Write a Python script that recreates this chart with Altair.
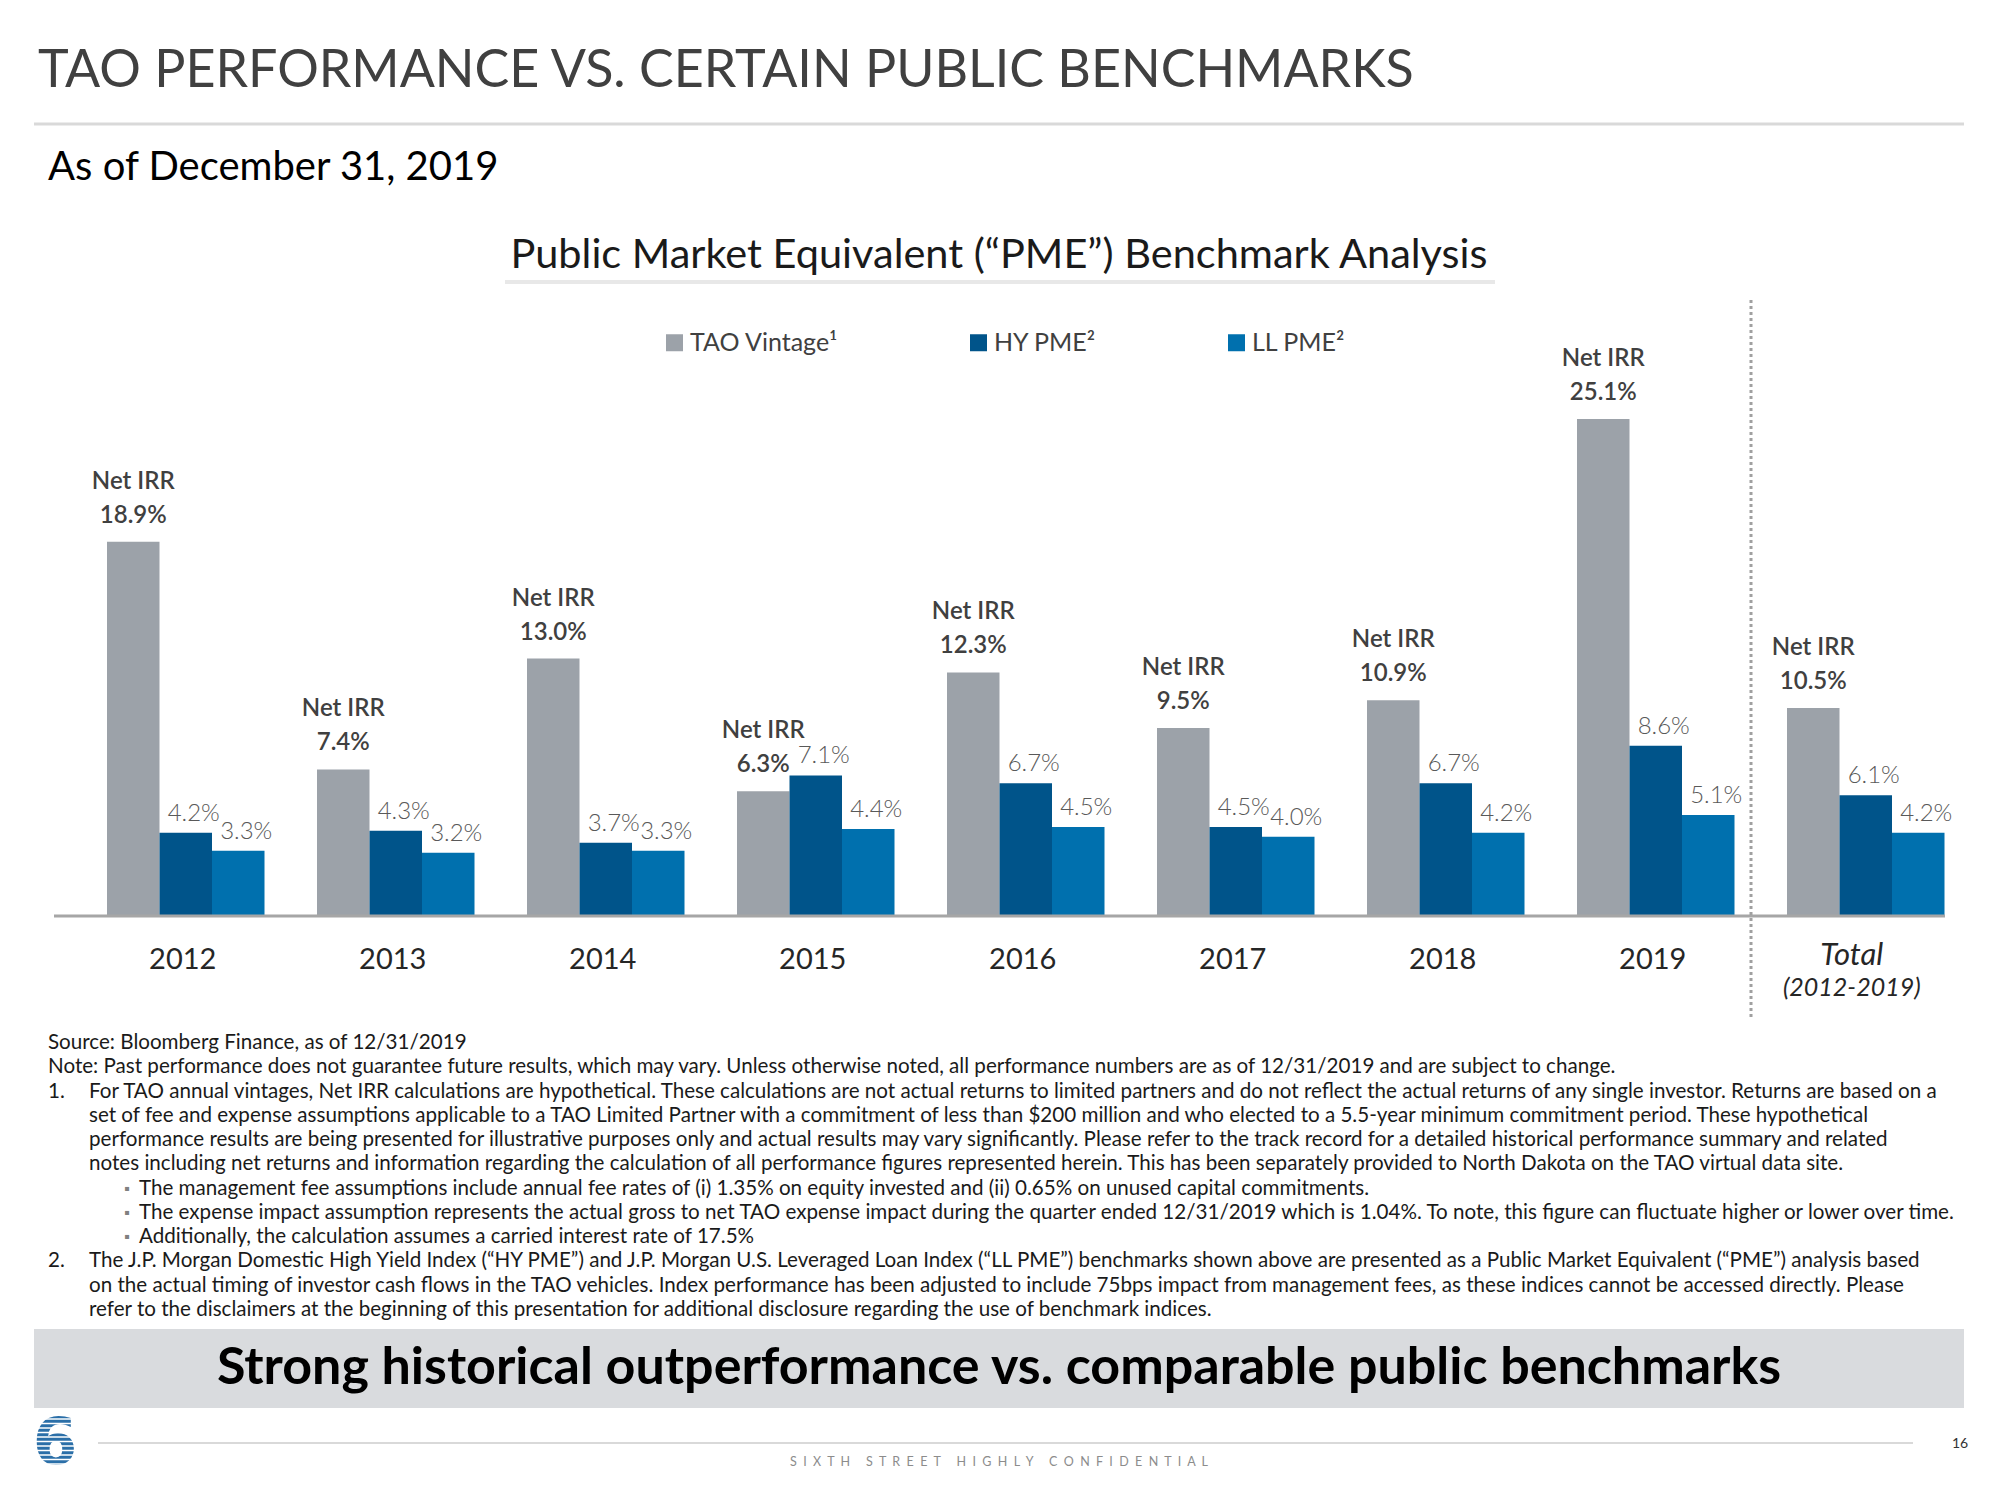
import altair as alt
import pandas as pd

# ---------------- data ----------------
categories = ["2012", "2013", "2014", "2015", "2016", "2017", "2018", "2019", "Total"]
series_names = ["TAO Vintage", "HY PME", "LL PME"]
tao_vintage = [18.9, 7.4, 13.0, 6.3, 12.3, 9.5, 10.9, 25.1, 10.5]
hy_pme = [4.2, 4.3, 3.7, 7.1, 6.7, 4.5, 6.7, 8.6, 6.1]
ll_pme = [3.3, 3.2, 3.3, 4.4, 4.5, 4.0, 4.2, 5.1, 4.2]
series_colors = ["#9ca2a9", "#00548a", "#0070ae"]
year_labels = ["2012", "2013", "2014", "2015", "2016", "2017", "2018", "2019"]
total_label = "Total"
total_sublabel = "(2012-2019)"

page_title = "TAO PERFORMANCE VS. CERTAIN PUBLIC BENCHMARKS"
as_of_text = "As of December 31, 2019"
chart_title = "Public Market Equivalent (\u201cPME\u201d) Benchmark Analysis"
banner_text = "Strong historical outperformance vs. comparable public benchmarks"
footer_words = ["SIXTH", "STREET", "HIGHLY", "CONFIDENTIAL"]
page_number = "16"
logo_text = "6"

note_lines = [
    "Source: Bloomberg Finance, as of 12/31/2019",
    "Note: Past performance does not guarantee future results, which may vary. Unless otherwise noted, all performance numbers are as of 12/31/2019 and are subject to change.",
    "For TAO annual vintages, Net IRR calculations are hypothetical. These calculations are not actual returns to limited partners and do not reflect the actual returns of any single investor. Returns are based on a",
    "set of fee and expense assumptions applicable to a TAO Limited Partner with a commitment of less than $200 million and who elected to a 5.5-year minimum commitment period. These hypothetical",
    "performance results are being presented for illustrative purposes only and actual results may vary significantly. Please refer to the track record for a detailed historical performance summary and related",
    "notes including net returns and information regarding the calculation of all performance figures represented herein. This has been separately provided to North Dakota on the TAO virtual data site.",
    "The management fee assumptions include annual fee rates of (i) 1.35% on equity invested and (ii) 0.65% on unused capital commitments.",
    "The expense impact assumption represents the actual gross to net TAO expense impact during the quarter ended 12/31/2019 which is 1.04%. To note, this figure can fluctuate higher or lower over time.",
    "Additionally, the calculation assumes a carried interest rate of 17.5%",
    "The J.P. Morgan Domestic High Yield Index (\u201cHY PME\u201d) and J.P. Morgan U.S. Leveraged Loan Index (\u201cLL PME\u201d) benchmarks shown above are presented as a Public Market Equivalent (\u201cPME\u201d) analysis based",
    "on the actual timing of investor cash flows in the TAO vehicles. Index performance has been adjusted to include 75bps impact from management fees, as these indices cannot be accessed directly. Please",
    "refer to the disclaimers at the beginning of this presentation for additional disclosure regarding the use of benchmark indices.",
]
note_markers = ["", "", "1.", "", "", "", "\u25aa", "\u25aa", "\u25aa", "2.", "", ""]
note_levels = [0, 0, 1, 1, 1, 1, 2, 2, 2, 1, 1, 1]

rows = []
for i, c in enumerate(categories):
    for s, vals in zip(series_names, [tao_vintage, hy_pme, ll_pme]):
        rows.append({"category": c, "series": s, "value": vals[i]})
df = pd.DataFrame(rows)

# ---------------- layout ----------------
FONT = "Lato"
OX, OY = 80.75, 322.0   # page position of plot origin
W, H = 1890, 594
YMAX = 30


def X(p):
    return p - OX


def Y(p):
    return p - OY


one = alt.Data(values=[{}])


def text_at(txt, xp, yp, **kw):
    style = dict(font=FONT, baseline="alphabetic", align="left", color="#000000")
    style.update(kw)
    return alt.Chart(one).mark_text(text=txt, **style).encode(
        x=alt.value(X(xp)), y=alt.value(Y(yp)))


def hrule(x1, x2, yp, color, width, dash=None):
    kw = dict(color=color, strokeWidth=width)
    if dash:
        kw["strokeDash"] = dash
    return alt.Chart(one).mark_rule(**kw).encode(
        x=alt.value(X(x1)), x2=alt.value(X(x2)), y=alt.value(Y(yp)))


def vrule(xp, y1, y2, color, width, dash=None):
    kw = dict(color=color, strokeWidth=width)
    if dash:
        kw["strokeDash"] = dash
    return alt.Chart(one).mark_rule(**kw).encode(
        x=alt.value(X(xp)), y=alt.value(Y(y1)), y2=alt.value(Y(y2)))


x_enc = alt.X("category:N", sort=categories, axis=None,
              scale=alt.Scale(domain=categories, paddingInner=0.25, paddingOuter=0.125))
xo_enc = alt.XOffset("series:N", sort=series_names,
                     scale=alt.Scale(domain=series_names, paddingInner=0, paddingOuter=0))
y_enc = alt.Y("value:Q", axis=None, scale=alt.Scale(domain=[0, YMAX], nice=False))

base = alt.Chart(df)

bars = base.mark_bar().encode(
    x=x_enc, xOffset=xo_enc, y=y_enc,
    color=alt.Color(
        "series:N", sort=series_names,
        scale=alt.Scale(domain=series_names, range=series_colors),
        legend=alt.Legend(
            title=None, orient="none", legendX=X(662), legendY=Y(330),
            direction="horizontal", symbolType="square", symbolSize=289,
            symbolStrokeWidth=0, labelFont=FONT, labelFontSize=25,
            labelColor="#404040", labelOffset=3, columnPadding=127,
            labelLimit=0,
            labelExpr="datum.label == 'TAO Vintage' ? 'TAO Vintage\u00b9' : datum.label + '\u00b2'",
        ),
    ),
)

bench_labels = base.transform_filter("datum.series != 'TAO Vintage'").transform_calculate(
    lbl="format(datum.value, '.1f') + '%'"
).mark_text(font=FONT, fontSize=24, fontWeight=300, color="#595959",
            baseline="alphabetic", align="center", dx=8, dy=-12).encode(
    x=x_enc, xOffset=xo_enc, y=y_enc, text="lbl:N")

tao_pct = base.transform_filter("datum.series == 'TAO Vintage'").transform_calculate(
    lbl="format(datum.value, '.1f') + '%'"
).mark_text(font=FONT, fontSize=24, fontWeight=600, color="#404040",
            baseline="alphabetic", align="center", dy=-19).encode(
    x=x_enc, xOffset=xo_enc, y=y_enc, text="lbl:N")

tao_net = base.transform_filter("datum.series == 'TAO Vintage'").mark_text(
    text="Net IRR", font=FONT, fontSize=24, fontWeight=600, color="#404040",
    baseline="alphabetic", align="center", dy=-53).encode(
    x=x_enc, xOffset=xo_enc, y=y_enc)

year_df = pd.DataFrame({"category": year_labels})
years = alt.Chart(year_df).mark_text(
    font=FONT, fontSize=29, color="#262626", baseline="alphabetic", align="center", dx=-3
).encode(x=x_enc, y=alt.value(Y(969)), text="category:N")

total_df = pd.DataFrame({"category": [total_label], "sub": [total_sublabel]})
total_main = alt.Chart(total_df).mark_text(
    font=FONT, fontSize=31, fontStyle="italic", color="#262626",
    baseline="alphabetic", align="center", dx=-14
).encode(x=x_enc, y=alt.value(Y(965)), text="category:N")
total_sub = alt.Chart(total_df).mark_text(
    font=FONT, fontSize=25, fontStyle="italic", color="#262626",
    baseline="alphabetic", align="center", dx=-14
).encode(x=x_enc, y=alt.value(Y(996)), text="sub:N")

# letter-spaced footer text (non-breaking spaces so they are not collapsed)
NB = "\u00a0"
footer_text = (NB * 5).join((NB * 2).join(w) for w in footer_words)

layers = [
    # header
    text_at(page_title, 38, 87, fontSize=52, color="#404040"),
    hrule(34, 1964, 124, "#d9d9d9", 3),
    text_at(as_of_text, 48, 180, fontSize=40),
    text_at(chart_title, 999, 268, fontSize=41.5, align="center", color="#1a1a1a"),
    hrule(505, 1495, 282, "#e8e8e8", 4),
    # chart
    bars,
    hrule(54, 1945, 916, "#a6a6a6", 3),
    vrule(1751, 300, 1020, "#a0a0a0", 3, [3, 3]),
    bench_labels, tao_pct, tao_net, years, total_main, total_sub,
    # banner
    alt.Chart(one).mark_rect(color="#d9dbde").encode(
        x=alt.value(X(34)), x2=alt.value(X(1964)), y=alt.value(Y(1329)), y2=alt.value(Y(1408))),
    text_at(banner_text, 999, 1368, fontSize=52, fontWeight="bold", align="center", baseline="middle"),
    # footer
    hrule(98, 1913, 1443, "#d9d9d9", 2),
    text_at(page_number, 1952, 1444, fontSize=14, color="#333333", baseline="middle"),
    text_at(footer_text, 999, 1462, fontSize=12.5, color="#8c8c8c", align="center", baseline="middle"),
    text_at(logo_text, 55, 1445, font="DejaVu Sans", fontSize=64, fontWeight="bold",
            color="#2b6fa8", align="center", baseline="middle"),
]

# logo stripes
k = 0
while 1419 + k * 4.5 < 1472:
    layers.append(hrule(28, 82, 1419 + k * 4.5, "#ffffff", 1.4))
    k += 1

# footnotes
NOTE_Y0, NOTE_DY, NOTE_FS = 1043, 24.27, 20.6
text_x = {0: 48, 1: 89, 2: 139}
marker_x = {1: 48, 2: 124}
for i, (line, marker, lvl) in enumerate(zip(note_lines, note_markers, note_levels)):
    yp = NOTE_Y0 + i * NOTE_DY
    layers.append(text_at(line, text_x[lvl], yp, fontSize=NOTE_FS, baseline="middle", color="#1a1a1a"))
    if marker:
        fs = NOTE_FS if lvl == 1 else 15
        col = "#1a1a1a" if lvl == 1 else "#808080"
        layers.append(text_at(marker, marker_x[lvl], yp, fontSize=fs, baseline="middle", color=col))

chart = alt.layer(*layers).properties(
    width=W, height=H,
    padding={"left": OX - 8, "top": OY - 8, "right": 1984 - (OX - 8) - W, "bottom": 1484 - (OY - 8) - H},
    autosize=alt.AutoSizeParams(type="none"),
    background="#ffffff",
).configure_view(stroke=None)

chart.save("out.html", embed_options={"renderer": "svg", "actions": False})
